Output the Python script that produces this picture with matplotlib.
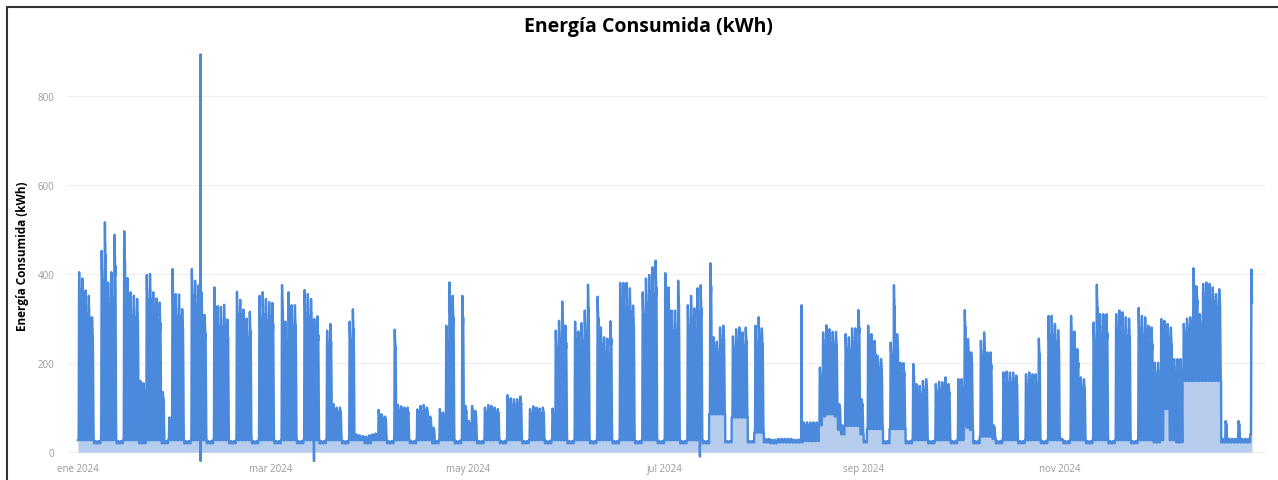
import numpy as np
import pandas as pd
import matplotlib
matplotlib.use("Agg")
import matplotlib.pyplot as plt
from matplotlib.patches import Rectangle

# Daily peak (kWh), one row per week (Mon..Sun), from 2024-01-01
PEAK_WEEKS = [
    [404, 390, 363, 351, 303, 25, 25],
    [452, 516, 381, 404, 488, 25, 25],
    [496, 391, 359, 351, 344, 160, 155],
    [398, 400, 359, 345, 336, 135, 25],
    [78, 411, 355, 354, 321, 25, 25],
    [411, 385, 374, 359, 308, 25, 25],
    [370, 328, 326, 331, 298, 25, 25],
    [360, 342, 320, 300, 315, 25, 25],
    [351, 359, 344, 337, 335, 25, 25],
    [375, 293, 359, 330, 330, 25, 25],
    [364, 355, 344, 299, 305, 25, 25],
    [273, 288, 108, 100, 100, 25, 25],
    [293, 321, 40, 38, 36, 35, 38],
    [40, 42, 95, 85, 80, 25, 25],
    [275, 106, 103, 100, 100, 25, 25],
    [96, 104, 106, 100, 80, 55, 25],
    [97, 89, 284, 381, 351, 25, 25],
    [351, 104, 70, 104, 93, 25, 25],
    [100, 106, 104, 100, 97, 25, 25],
    [128, 121, 119, 119, 125, 25, 25],
    [97, 103, 100, 98, 100, 25, 25],
    [98, 273, 295, 338, 284, 25, 25],
    [293, 271, 290, 318, 376, 25, 25],
    [349, 280, 258, 255, 294, 25, 25],
    [380, 380, 380, 368, 329, 25, 25],
    [359, 390, 398, 415, 430, 25, 25],
    [402, 370, 318, 318, 385, 25, 25],
    [330, 351, 323, 368, 375, 25, 25],
    [424, 258, 248, 280, 284, 25, 25],
    [260, 276, 280, 269, 280, 25, 25],
    [284, 303, 278, 30, 30, 28, 28],
    [30, 30, 30, 30, 30, 28, 28],
    [30, 67, 67, 67, 67, 67, 190],
    [269, 285, 276, 270, 270, 108, 60],
    [265, 258, 278, 278, 319, 119, 25],
    [284, 265, 250, 216, 209, 25, 25],
    [246, 375, 265, 201, 200, 25, 25],
    [198, 153, 149, 160, 164, 25, 25],
    [153, 158, 157, 168, 153, 25, 25],
    [164, 164, 319, 254, 224, 25, 25],
    [250, 269, 224, 224, 60, 25, 25],
    [179, 181, 179, 179, 172, 25, 25],
    [175, 179, 175, 175, 255, 25, 25],
    [306, 306, 288, 274, 30, 25, 25],
    [306, 271, 231, 168, 164, 25, 25],
    [291, 376, 310, 310, 310, 25, 25],
    [310, 318, 314, 303, 300, 25, 25],
    [324, 306, 303, 284, 280, 201, 201],
    [299, 295, 288, 280, 209, 209, 209],
    [288, 300, 303, 413, 372, 310, 378],
    [381, 378, 370, 355, 366, 30, 70],
    [30, 30, 30, 70, 30, 30, 30],
    [410],
]

# Night-time base (kWh) per day, same layout
BASE_WEEKS = [[27, 27, 27, 27, 27, 20, 20]] * 28 + [
    [85, 85, 85, 85, 85, 22, 22],
    [78, 78, 78, 78, 78, 22, 22],
    [44, 44, 44, 22, 22, 20, 20],
    [22, 22, 22, 22, 22, 22, 22],
    [22, 25, 25, 25, 25, 25, 60],
    [80, 85, 85, 85, 80, 50, 40],
    [59, 59, 59, 59, 59, 40, 22],
    [52, 52, 52, 52, 52, 20, 20],
    [52, 52, 52, 52, 52, 20, 20],
    [27, 27, 27, 27, 27, 20, 20],
    [27, 27, 27, 27, 27, 20, 20],
    [27, 27, 60, 55, 50, 20, 20],
    [35, 35, 35, 35, 30, 20, 20],
    [27, 27, 27, 27, 27, 20, 20],
    [27, 27, 27, 27, 27, 20, 20],
    [27, 27, 27, 27, 27, 20, 20],
    [27, 27, 27, 27, 27, 20, 20],
    [27, 27, 27, 27, 27, 20, 20],
    [27, 27, 27, 27, 27, 20, 20],
    [27, 27, 27, 27, 27, 22, 22],
    [27, 97, 97, 27, 27, 22, 22],
    [160, 160, 160, 160, 160, 160, 160],
    [160, 160, 160, 160, 160, 22, 22],
    [22, 22, 22, 22, 22, 22, 22],
    [40],
]

# Share of the daily swing used in each hour of a day
HOUR_SHAPE = [0, 0, 0, 0, 0, 0, 0.2, 0.6, 0.9, 1.0, 0.95, 0.9,
              0.9, 0.8, 0.85, 0.85, 0.75, 0.6, 0.4, 0.2, 0.1, 0, 0, 0]

# Single-hour readings that stand out
EVENTS = {
    "2024-02-08 01:00": 893,
    "2024-02-08 02:00": -20,
    "2024-03-14 07:00": -20,
    "2024-07-12 03:00": -10,
    "2024-08-12 17:00": 330,
}
LAST_HOUR = "2024-12-30 13:00"

TICK_DATES = ["2024-01-01", "2024-03-01", "2024-05-01", "2024-07-01", "2024-09-01", "2024-11-01"]
TICK_LABELS = ["ene 2024", "mar 2024", "may 2024", "jul 2024", "sep 2024", "nov 2024"]
Y_TICKS = [0, 200, 400, 600, 800]

peaks = np.array([v for w in PEAK_WEEKS for v in w], dtype=float)
bases = np.array([v for w in BASE_WEEKS for v in w], dtype=float)
shape = np.array(HOUR_SHAPE)
vals = (bases[:, None] + (peaks - bases)[:, None] * shape[None, :]).ravel()
t = pd.date_range("2024-01-01", periods=len(vals), freq="h")
s = pd.Series(vals, index=t)
for k, v in EVENTS.items():
    s[pd.Timestamp(k)] = v
s = s[:LAST_HOUR]

LINE = "#4a89dc"
FILL = "#b6cdee"

fig = plt.figure(figsize=(12.78, 4.81), dpi=100)
ax = fig.add_axes([67 / 1278, 1 - 463 / 481, (1266 - 67) / 1278, (463 - 50) / 481])

ax.fill_between(s.index, s.values, 0, color=FILL, lw=0)
ax.plot(s.index, s.values, color=LINE, lw=1.7)

x0 = pd.Timestamp("2024-01-01")
ax.set_xlim(x0 - pd.Timedelta(days=3.4), x0 + pd.Timedelta(days=368.9))
ax.set_ylim(-22, 905)

ax.set_xticks(pd.to_datetime(TICK_DATES))
ax.set_xticklabels(TICK_LABELS)
ax.set_yticks(Y_TICKS)
ax.tick_params(length=0, labelsize=7, labelcolor="#999999", pad=1)
ax.tick_params(axis="y", pad=9)
for lab in ax.get_xticklabels() + ax.get_yticklabels():
    lab.set_family("Open Sans")
ax.grid(axis="y", color="#eeeeee", lw=0.8)
ax.set_axisbelow(True)
for sp in ax.spines.values():
    sp.set_visible(False)

ax.set_ylabel("Energía Consumida (kWh)", fontsize=8.5, fontweight="bold",
              family="Open Sans", labelpad=6)
fig.text(648 / 1278, 1 - 27 / 481, "Energía Consumida (kWh)", ha="center", va="center",
         fontsize=14, fontweight="bold", family="Open Sans")

fig.patches.append(Rectangle((7 / 1278, -0.2), 1.2, 1.2 - 8 / 481, transform=fig.transFigure,
                             fill=False, edgecolor="#333333", lw=1.5))

fig.savefig("out.png", dpi=100)
